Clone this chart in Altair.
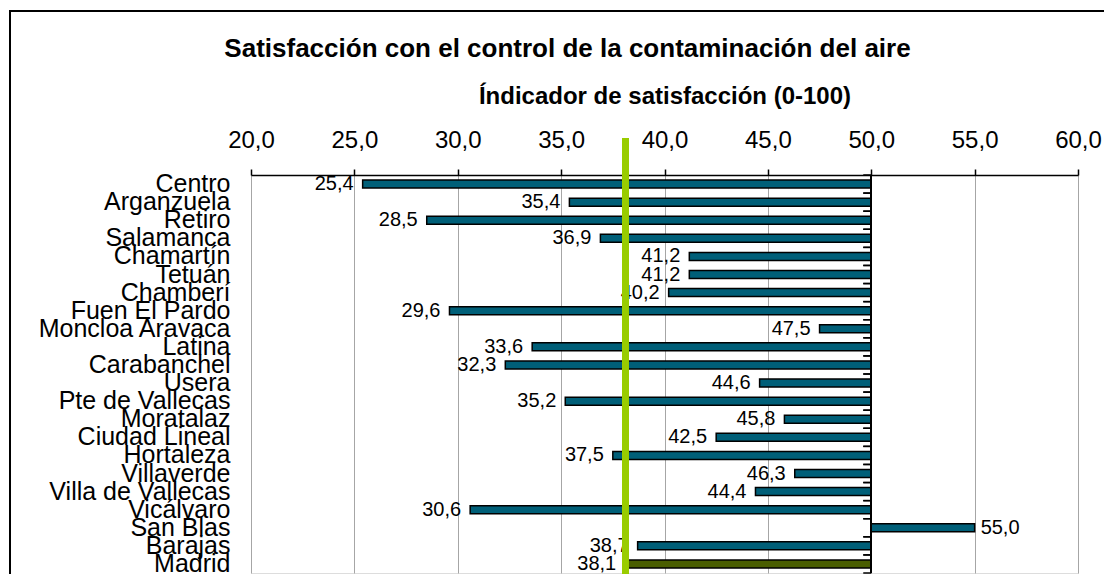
import altair as alt
import pandas as pd

districts = ["Centro", "Arganzuela", "Retiro", "Salamanca", "Chamartín", "Tetuán",
             "Chamberí", "Fuen El Pardo", "Moncloa Aravaca", "Latina", "Carabanchel",
             "Usera", "Pte de Vallecas", "Moratalaz", "Ciudad Lineal", "Hortaleza",
             "Villaverde", "Villa de Vallecas", "Vicálvaro", "San Blas", "Barajas", "Madrid"]
values = [25.4, 35.4, 28.5, 36.9, 41.2, 41.2, 40.2, 29.6, 47.5, 33.6, 32.3,
          44.6, 35.2, 45.8, 42.5, 37.5, 46.3, 44.4, 30.6, 55.0, 38.7, 38.1]
x_ticks = [20, 25, 30, 35, 40, 45, 50, 55, 60]
base_value = 50
madrid_value = 38.1

df = pd.DataFrame({"district": districts, "value": values})
df["group"] = ["Madrid" if d == "Madrid" else "Distrito" for d in districts]

FONT = "Liberation Sans"
W, H = 827, 398

yenc = alt.Y("district:N", sort=districts,
             scale=alt.Scale(paddingInner=0, paddingOuter=0),
             axis=alt.Axis(title=None, domain=False, ticks=False, grid=False,
                           labelFontSize=25, labelFont=FONT, labelColor="black",
                           labelPadding=21, labelOverlap=False, labelBound=False,
                           labelLimit=0, labelBaseline="middle"))

xscale = alt.Scale(domain=[20, 60], nice=False, zero=False)
xaxis = alt.Axis(orient="top", values=x_ticks, title="Índicador de satisfacción (0-100)",
                 labelExpr="replace(format(datum.value, '.1f'), '.', ',')",
                 labelFontSize=24, labelFont=FONT, labelColor="black", labelPadding=17,
                 labelFlush=False, labelOverlap=False,
                 titleFont=FONT, titleFontSize=24, titleFontWeight="bold", titleColor="black",
                 titlePadding=20, domainColor="black", domainWidth=1.5,
                 tickColor="black", tickWidth=1.5, tickSize=6,
                 grid=True, gridColor="#A6A6A6", gridWidth=1)

base = alt.Chart(df)

border = base.mark_rect(filled=False, stroke="black", strokeWidth=2).encode(
    x=alt.value(-241), x2=alt.value(1300), y=alt.value(-164), y2=alt.value(700))

bars = base.mark_bar(size=8, stroke="black", strokeWidth=1.5).encode(
    y=yenc,
    x=alt.X("value:Q", scale=xscale, axis=xaxis),
    x2=alt.datum(base_value),
    color=alt.Color("group:N", scale=alt.Scale(domain=["Distrito", "Madrid"],
                                               range=["#005F78", "#4A5E00"]), legend=None),
)

axis50 = base.mark_rule(color="black", strokeWidth=1.5).encode(x=alt.datum(base_value))

ticks_top = base.mark_rule(color="black", strokeWidth=1.5, x2Offset=-8).encode(
    y=alt.Y("district:N", sort=districts, bandPosition=0),
    x=alt.datum(base_value), x2=alt.datum(base_value))
ticks_bot = base.mark_rule(color="black", strokeWidth=1.5, x2Offset=-8).encode(
    y=alt.Y("district:N", sort=districts, bandPosition=1),
    x=alt.datum(base_value), x2=alt.datum(base_value))

lab = base.transform_calculate(
    label="replace(format(datum.value, '.1f'), '.', ',')")
labels_left = lab.transform_filter("datum.value < 50").mark_text(
    align="right", baseline="middle", dx=-9, fontSize=20, font=FONT, color="black").encode(
    y=alt.Y("district:N", sort=districts), x=alt.X("value:Q"), text="label:N")
labels_right = lab.transform_filter("datum.value > 50").mark_text(
    align="left", baseline="middle", dx=6, fontSize=20, font=FONT, color="black").encode(
    y=alt.Y("district:N", sort=districts), x=alt.X("value:Q"), text="label:N")

green = base.mark_rule(color="#99CC00", strokeWidth=6).encode(
    x=alt.datum(madrid_value), y=alt.value(-37), y2=alt.value(407))

chart = alt.layer(border, bars, axis50, ticks_top, ticks_bot, labels_left, labels_right, green).properties(
    width=W, height=H,
    autosize=alt.AutoSizeParams(type="none"),
    padding={"left": 243, "top": 167, "right": 26, "bottom": 1},
    title=alt.TitleParams("Satisfacción con el control de la contaminación del aire",
                          font=FONT, fontSize=26, fontWeight="bold", color="black",
                          anchor="middle", frame="group", dx=-97, offset=-73,
                          baseline="alphabetic"),
).configure_view(stroke="transparent").configure(background="white")

chart.save("out.html", embed_options={"renderer": "svg", "actions": False})
